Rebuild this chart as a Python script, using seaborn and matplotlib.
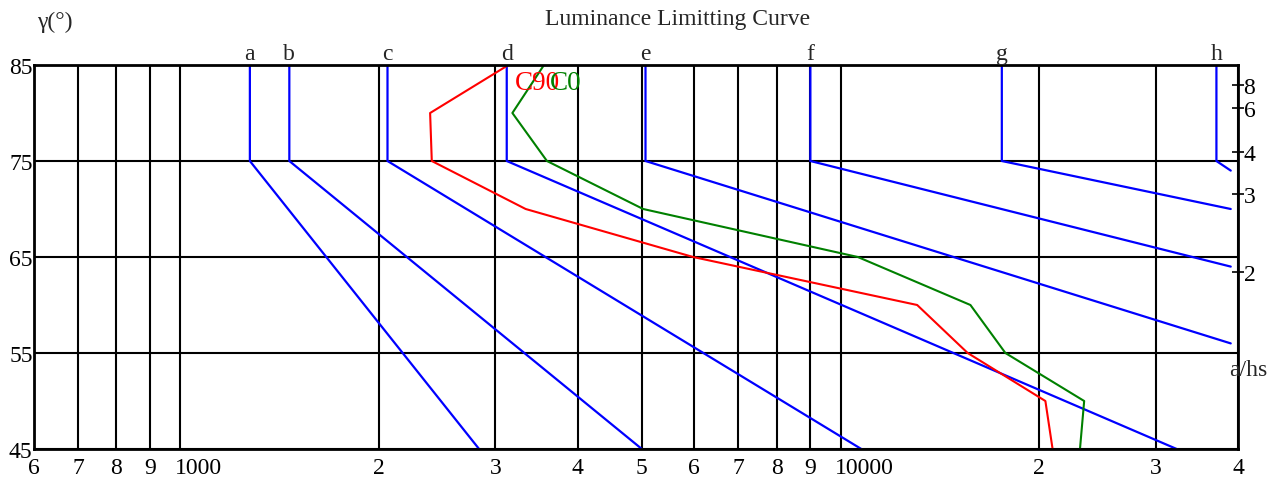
import numpy as np
import pandas as pd
import seaborn as sns
import matplotlib.pyplot as plt
from matplotlib.ticker import NullLocator, FixedLocator
from matplotlib.transforms import ScaledTranslation

# limit curves a..h : luminance on the vertical part (85..75 deg) and where the slope ends
curve_names = ["a", "b", "c", "d", "e", "f", "g", "h"]
top_lum = [1274, 1462, 2059, 3121, 5064, 9000, 17550, 37100]
end_lum = [2834, 5000, 10750, 32300, 39000, 39000, 39000, 39000]
end_gamma = [45, 45, 45, 45, 56, 64, 70, 74]
gamma_top = 85
gamma_knee = 75

# measured luminaire curves
meas_gamma = [85, 80, 75, 70, 65, 60, 55, 50, 45]
c90_lum = [3139, 2389, 2403, 3334, 5979, 13063, 15580, 20430, 20950]
c0_lum = [3554, 3183, 3591, 5023, 10620, 15730, 17770, 23390, 23050]

# axis ticks
x_ticks = [600, 700, 800, 900, 1000, 2000, 3000, 4000, 5000, 6000, 7000, 8000, 9000,
           10000, 20000, 30000, 40000]
x_labels = ["6", "7", "8", "9", "1000", "2", "3", "4", "5", "6", "7", "8", "9",
            "10000", "2", "3", "4"]
y_ticks = [45, 55, 65, 75, 85]
ahs_values = [8, 6, 4, 3, 2]

FS = 17

sns.set_style("white")
plt.rcParams['font.family'] = ['Liberation Serif', 'DejaVu Serif']

fig = plt.figure(figsize=(12.81, 4.81), dpi=100)
ax = fig.add_axes([34 / 1281, 1 - 450 / 481, (1238 - 34) / 1281, (450 - 66) / 481])

rows = []
for name, x0, x1, g1 in zip(curve_names, top_lum, end_lum, end_gamma):
    for i, (x, g) in enumerate([(x0, gamma_top), (x0, gamma_knee), (x1, g1)]):
        rows.append({"curve": name, "order": i, "L": x, "gamma": g})
limits = pd.DataFrame(rows)

for name in curve_names:
    sub = limits[limits["curve"] == name]
    sns.lineplot(data=sub, x="L", y="gamma", color="blue", lw=1.6,
                 estimator=None, sort=False, ax=ax)

meas = pd.DataFrame({"gamma": meas_gamma, "C90": c90_lum, "C0": c0_lum})
sns.lineplot(data=meas, x="C90", y="gamma", color="red", lw=1.5,
             estimator=None, sort=False, ax=ax)
sns.lineplot(data=meas, x="C0", y="gamma", color="green", lw=1.5,
             estimator=None, sort=False, ax=ax)

ax.set_xscale("log")
ax.set_xlim(600, 40000)
ax.set_ylim(45, 85)
ax.xaxis.set_major_locator(FixedLocator(x_ticks))
ax.xaxis.set_minor_locator(NullLocator())
ax.set_xticklabels(x_labels)
ax.set_yticks(y_ticks)
ax.set_yticklabels([str(v) for v in y_ticks])
ax.set_xlabel("")
ax.set_ylabel("")
ax.tick_params(axis="x", length=0, pad=6, labelsize=FS, colors="black")
ax.tick_params(axis="y", length=0, pad=1, labelsize=FS, colors="black")
ax.grid(True, color="black", lw=1.5)
ax.set_axisbelow(True)
for s in ax.spines.values():
    s.set_color("black")
    s.set_linewidth(2)

# the long labels start at their gridline instead of being centred on it
shift = ScaledTranslation(-0.06, 0, fig.dpi_scale_trans)
for lbl in ax.get_xticklabels():
    if lbl.get_text() in ("1000", "10000"):
        lbl.set_horizontalalignment("left")
        lbl.set_transform(lbl.get_transform() + shift)

for name, x0 in zip(curve_names, top_lum):
    ax.annotate(name, (x0, gamma_top), xytext=(0, 4.5), textcoords="offset points",
                ha="center", va="baseline", fontsize=FS)

ax.text(3213, 82.5, "C90", color="red", fontsize=19.5, va="baseline")
ax.text(3630, 82.5, "C0", color="green", fontsize=19.5, va="baseline")

ax2 = ax.twinx()
ax2.set_ylim(45, 85)
ax2.set_yticks(np.degrees(np.arctan(ahs_values)))
ax2.set_yticklabels([str(v) for v in ahs_values])
ax2.tick_params(axis="y", direction="inout", length=8, width=1.2, pad=0,
                labelsize=FS, colors="black")
for s in ax2.spines.values():
    s.set_visible(False)

fig.text(678 / 1281, 1 - 20 / 481, "Luminance Limitting Curve", ha="center", va="center",
         fontsize=FS)
fig.text(55 / 1281, 1 - 22 / 481, "γ(°)", ha="center", va="center", fontsize=FS)
fig.text(1248 / 1281, 1 - 370 / 481, "a/hs", ha="center", va="center", fontsize=FS)

fig.savefig("out.png", dpi=100)
